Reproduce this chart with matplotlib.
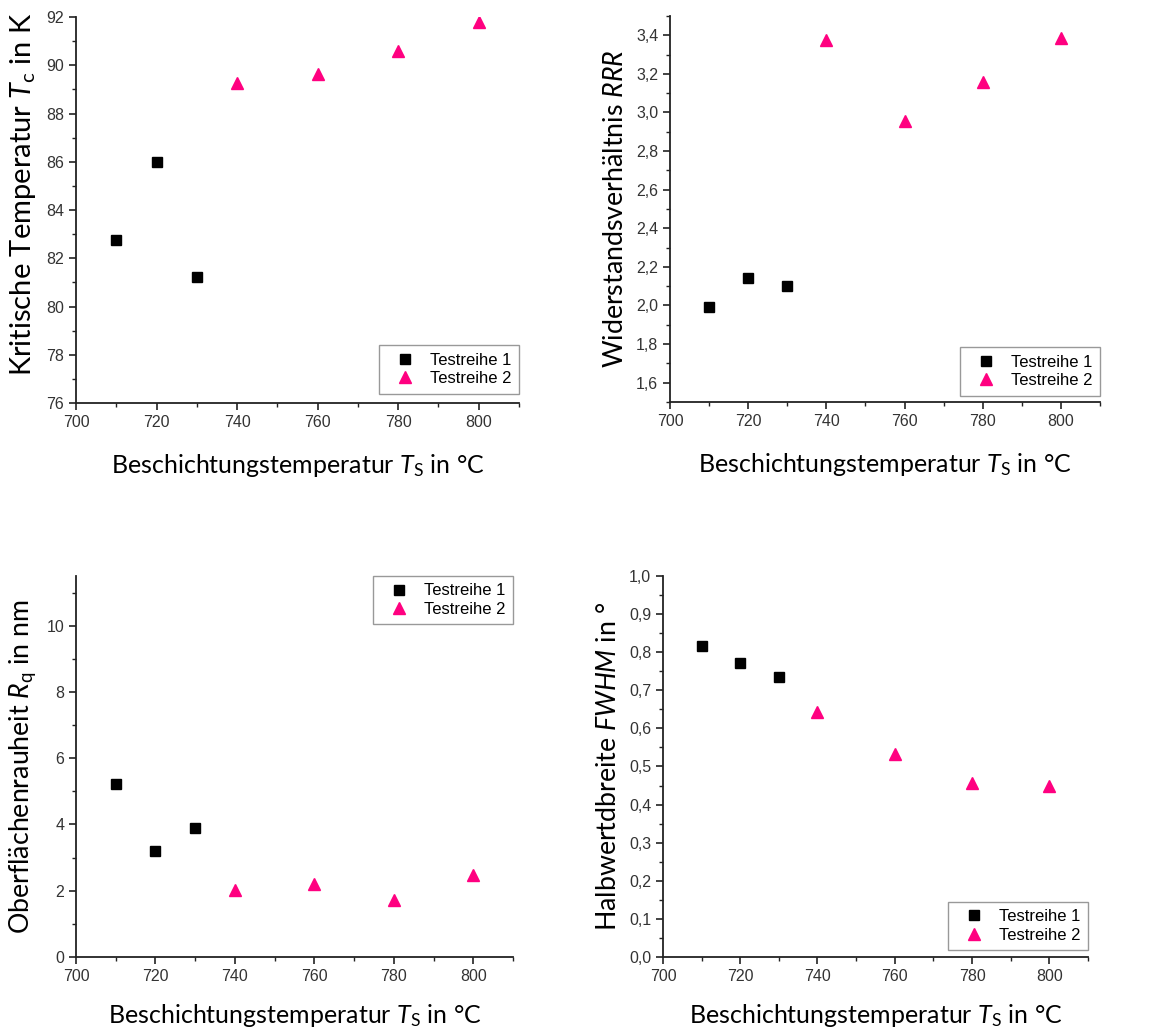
import numpy as np
import matplotlib
matplotlib.use("Agg")
import matplotlib.pyplot as plt
from matplotlib.ticker import MultipleLocator, FuncFormatter

# Messdaten
T_reihe1 = [710, 720, 730]
T_reihe2 = [740, 760, 780, 800]

Tc_reihe1 = [82.74, 86.0, 81.23]
Tc_reihe2 = [89.26, 89.65, 90.59, 91.8]

RRR_reihe1 = [1.99, 2.14, 2.10]
RRR_reihe2 = [3.378, 2.958, 3.157, 3.386]

Rq_reihe1 = [5.22, 3.20, 3.88]
Rq_reihe2 = [2.02, 2.20, 1.71, 2.48]

FWHM_reihe1 = [0.816, 0.772, 0.735]
FWHM_reihe2 = [0.643, 0.532, 0.457, 0.449]

labels_reihe = ["Testreihe 1", "Testreihe 2"]

LABEL_FONT = "Lato"
TICK_FONT = "Liberation Sans"
PINK = "#FF0080"

plt.rcParams['mathtext.fontset'] = 'custom'
plt.rcParams['mathtext.rm'] = LABEL_FONT
plt.rcParams['mathtext.it'] = LABEL_FONT + ':italic'


def komma(dezimalen):
    def f(v, pos):
        return f"{v:.{dezimalen}f}".replace('.', ',')
    return FuncFormatter(f)


def zeichne(ax, y1, y2, ylim, major, minor, dez, ylabel, ylabel_size,
            xlabel_pad, leg_loc, leg_anchor):
    ax.plot(T_reihe1, y1, 's', color='black', markersize=6.5, linestyle='none',
            label=labels_reihe[0])
    ax.plot(T_reihe2, y2, '^', color=PINK, markersize=8, linestyle='none',
            label=labels_reihe[1])

    ax.set_xlim(700, 810)
    ax.set_ylim(*ylim)
    ax.xaxis.set_major_locator(MultipleLocator(20))
    ax.xaxis.set_minor_locator(MultipleLocator(10))
    ax.yaxis.set_major_locator(MultipleLocator(major))
    ax.yaxis.set_minor_locator(MultipleLocator(minor))
    ax.yaxis.set_major_formatter(komma(dez))

    for s in ['top', 'right']:
        ax.spines[s].set_visible(False)
    for s in ['left', 'bottom']:
        ax.spines[s].set_linewidth(1.3)
        ax.spines[s].set_color('#222222')

    ax.tick_params(which='major', direction='out', length=5, width=1.2,
                   labelsize=11.5, labelcolor='#333333', color='#222222')
    ax.tick_params(which='minor', direction='out', length=3, width=1.0,
                   color='#222222')
    for t in ax.get_xticklabels() + ax.get_yticklabels():
        t.set_fontfamily(TICK_FONT)

    ax.set_xlabel(r"Beschichtungstemperatur $T_\mathrm{S}$ in °C",
                  fontsize=18, fontfamily=LABEL_FONT, labelpad=xlabel_pad)
    ax.set_ylabel(ylabel, fontsize=ylabel_size, fontfamily=LABEL_FONT, labelpad=6)

    leg = ax.legend(loc=leg_loc, bbox_to_anchor=leg_anchor, borderaxespad=0,
                    fancybox=False, framealpha=1, edgecolor='#999999',
                    handlelength=2.2, handletextpad=0.4, borderpad=0.45,
                    labelspacing=0.2, prop={'family': TICK_FONT, 'size': 12})
    leg.get_frame().set_linewidth(1.0)


fig = plt.figure(figsize=(11.57, 10.30), dpi=100)

ax1 = fig.add_axes([0.0657, 0.6087, 0.3829, 0.3748])
ax2 = fig.add_axes([0.5791, 0.6097, 0.3717, 0.3748])
ax3 = fig.add_axes([0.0657, 0.0709, 0.3777, 0.3699])
ax4 = fig.add_axes([0.5730, 0.0709, 0.3673, 0.3699])

zeichne(ax1, Tc_reihe1, Tc_reihe2, (76, 92), 2, 1, 0,
        r"Kritische Temperatur $T_\mathrm{c}$ in K", 21, 16,
        'lower right', (1.0, 0.024))
zeichne(ax2, RRR_reihe1, RRR_reihe2, (1.5, 3.5), 0.2, 0.1, 1,
        r"Widerstandsverhältnis $RRR$", 19.3, 16,
        'lower right', (1.0, 0.016))
zeichne(ax3, Rq_reihe1, Rq_reihe2, (0, 11.5), 2, 1, 0,
        r"Oberflächenrauheit $R_\mathrm{q}$ in nm", 19.3, 13,
        'upper right', (1.0, 1.0))
zeichne(ax4, FWHM_reihe1, FWHM_reihe2, (0, 1.0), 0.1, 0.05, 1,
        r"Halbwertdbreite $FWHM$ in °", 19.3, 13,
        'lower right', (1.0, 0.018))

# y-Beschriftung oben links sitzt im Original etwas höher
ax1.yaxis.label.set_y(0.54)

plt.savefig("out.png", dpi=100)
